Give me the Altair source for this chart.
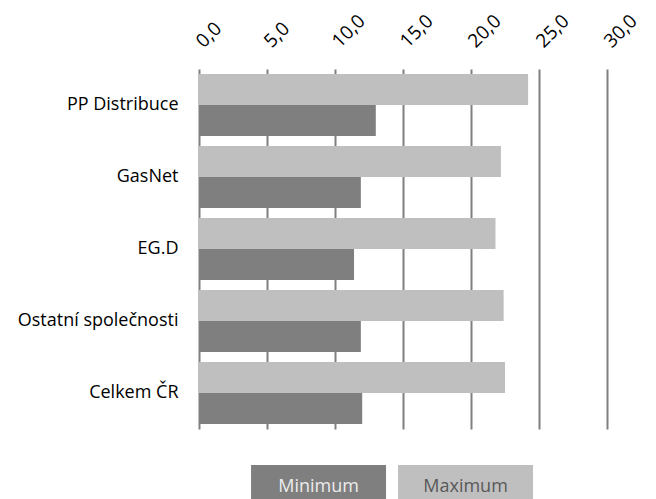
import altair as alt
import pandas as pd

categories = ["PP Distribuce", "GasNet", "EG.D", "Ostatní společnosti", "Celkem ČR"]
minimum = [13.0, 11.9, 11.4, 11.9, 12.0]
maximum = [24.2, 22.2, 21.8, 22.4, 22.5]
series = ["Minimum", "Maximum"]
colors = ["#7f7f7f", "#bfbfbf"]
text_colors = ["#ececec", "#595959"]
x_ticks = [0, 5, 10, 15, 20, 25, 30]

rows = []
for c, mn, mx in zip(categories, minimum, maximum):
    rows.append({"category": c, "series": "Minimum", "value": mn})
    rows.append({"category": c, "series": "Maximum", "value": mx})
df = pd.DataFrame(rows)

FONT = "Open Sans"
FS = 18

main = alt.Chart(df).mark_bar().encode(
    x=alt.X("value:Q", scale=alt.Scale(domain=[0, 30], nice=False),
            axis=alt.Axis(orient="top", values=x_ticks, title=None, grid=True,
                          gridColor="#808080", gridWidth=2, domain=False,
                          ticks=False, tickSize=0, labelAngle=-45,
                          labelAlign="left", labelBaseline="middle",
                          labelPadding=25, labelFont=FONT, labelFontSize=19,
                          labelColor="#000000",
                          labelExpr="replace(format(datum.value, '.1f'), '.', ',')")),
    y=alt.Y("category:N", sort=categories,
            scale=alt.Scale(paddingInner=0.14, paddingOuter=0.07),
            axis=alt.Axis(title=None, domain=False, ticks=False, labelPadding=21,
                          labelFont=FONT, labelFontSize=FS, labelColor="#000000")),
    yOffset=alt.YOffset("series:N", sort=["Maximum", "Minimum"],
                        scale=alt.Scale(paddingInner=0, paddingOuter=0)),
    color=alt.Color("series:N", scale=alt.Scale(domain=series, range=colors), legend=None),
).properties(width=408, height=360)

leg_df = pd.DataFrame({"series": series, "tc": text_colors})
leg_x = alt.X("series:N", sort=series,
              scale=alt.Scale(paddingInner=0.0816, paddingOuter=0.4286, align=0.413),
              axis=None)
leg_boxes = alt.Chart(leg_df).mark_bar().encode(
    x=leg_x,
    color=alt.Color("series:N", scale=alt.Scale(domain=series, range=colors), legend=None),
)
leg_text = alt.Chart(leg_df).mark_text(font=FONT, fontSize=FS, baseline="alphabetic", dy=9).encode(
    x=leg_x,
    text="series:N",
    color=alt.Color("tc:N", scale=None),
)
legend = alt.layer(leg_boxes, leg_text).properties(width=408, height=36)

chart = alt.vconcat(main, legend, spacing=36).properties(
    padding={"left": 9, "top": 3, "right": 5, "bottom": 0}
).configure_view(stroke=None)

chart.save("out.html", embed_options={"renderer": "svg", "actions": False})
